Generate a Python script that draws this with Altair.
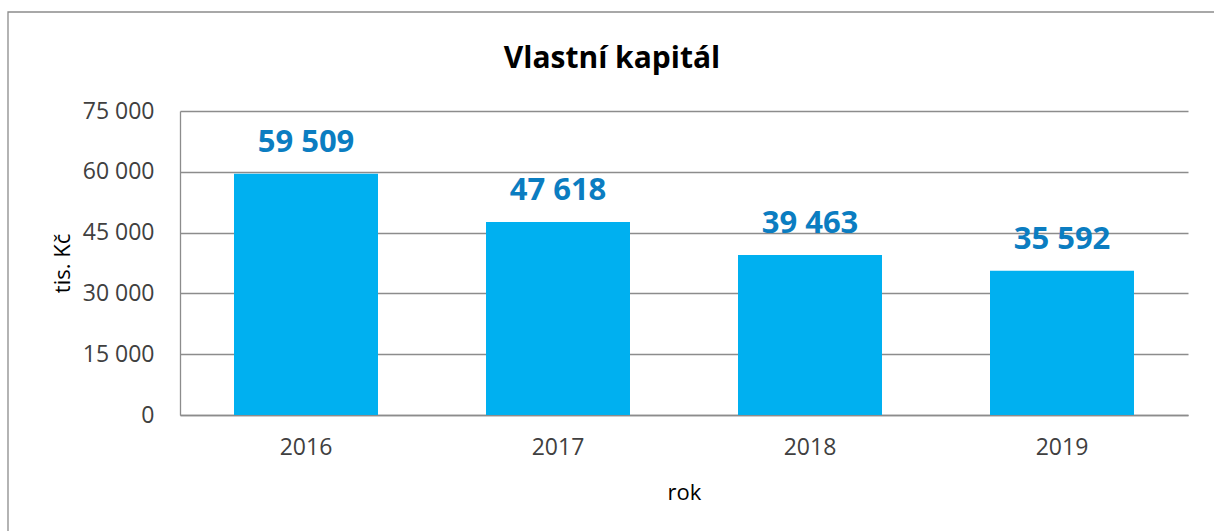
import altair as alt
import pandas as pd

years = ["2016", "2017", "2018", "2019"]
values = [59509, 47618, 39463, 35592]
y_ticks = [0, 15000, 30000, 45000, 60000, 75000]

df = pd.DataFrame({"rok": years, "value": values})
df["label"] = [f"{v:,}".replace(",", " ") for v in values]

FONT = "Open Sans"
GRAY = "#8c8c8c"

x_enc = alt.X(
    "rok:N", sort=years,
    scale=alt.Scale(paddingInner=0.4286, paddingOuter=0.2143),
    axis=alt.Axis(
        title="rok", labelAngle=0, ticks=False, tickSize=0, labelPadding=21,
        labelFontSize=23, labelColor="#404040", labelFont=FONT,
        domainColor=GRAY, domainWidth=1.3, grid=False,
        titleFont=FONT, titleFontSize=22, titleFontWeight="normal", titleColor="#000000",
        titleX=504, titleY=84, titleBaseline="alphabetic", titleAlign="center",
    ),
)
y_enc = alt.Y(
    "value:Q",
    scale=alt.Scale(domain=[0, 75000], nice=False),
    axis=alt.Axis(
        title="tis. Kč", values=y_ticks,
        labelExpr="replace(format(datum.value, ','), ',', ' ')",
        ticks=False, tickSize=0, labelPadding=26,
        labelFontSize=23, labelColor="#404040", labelFont=FONT,
        domainColor=GRAY, domainWidth=1.3,
        grid=True, gridColor=GRAY, gridWidth=1.3,
        titleFont=FONT, titleFontSize=22, titleFontWeight="normal", titleColor="#000000",
        titleX=-118, titleY=152, titleAngle=270, titleBaseline="middle", titleAlign="center",
    ),
)

base = alt.Chart(df)

frame = alt.Chart(pd.DataFrame({"a": [0]})).mark_rect(
    fillOpacity=0, stroke=GRAY, strokeWidth=1.3
).encode(
    x=alt.value(-172), x2=alt.value(1060), y=alt.value(-99), y2=alt.value(450)
)

bars = base.mark_bar(color="#00B0F0").encode(x=x_enc, y=y_enc)

labels = base.mark_text(
    dy=-22, baseline="alphabetic", fontSize=31, fontWeight="bold",
    color="#0B7DC1", font=FONT,
).encode(x=x_enc, y=y_enc, text="label:N")

chart = alt.layer(frame, bars, labels).properties(
    width=1008, height=304,
    padding={"left": 180, "top": 111, "right": 26, "bottom": 116},
    autosize=alt.AutoSizeParams(type="none"),
    title=alt.TitleParams(
        "Vlastní kapitál", font=FONT, fontSize=30, fontWeight="bold", color="#000000",
        anchor="middle", dx=-72, offset=0, dy=87, baseline="alphabetic",
    ),
).configure_view(strokeWidth=0)

chart.save("out.html", embed_options={"renderer": "svg", "actions": False})
